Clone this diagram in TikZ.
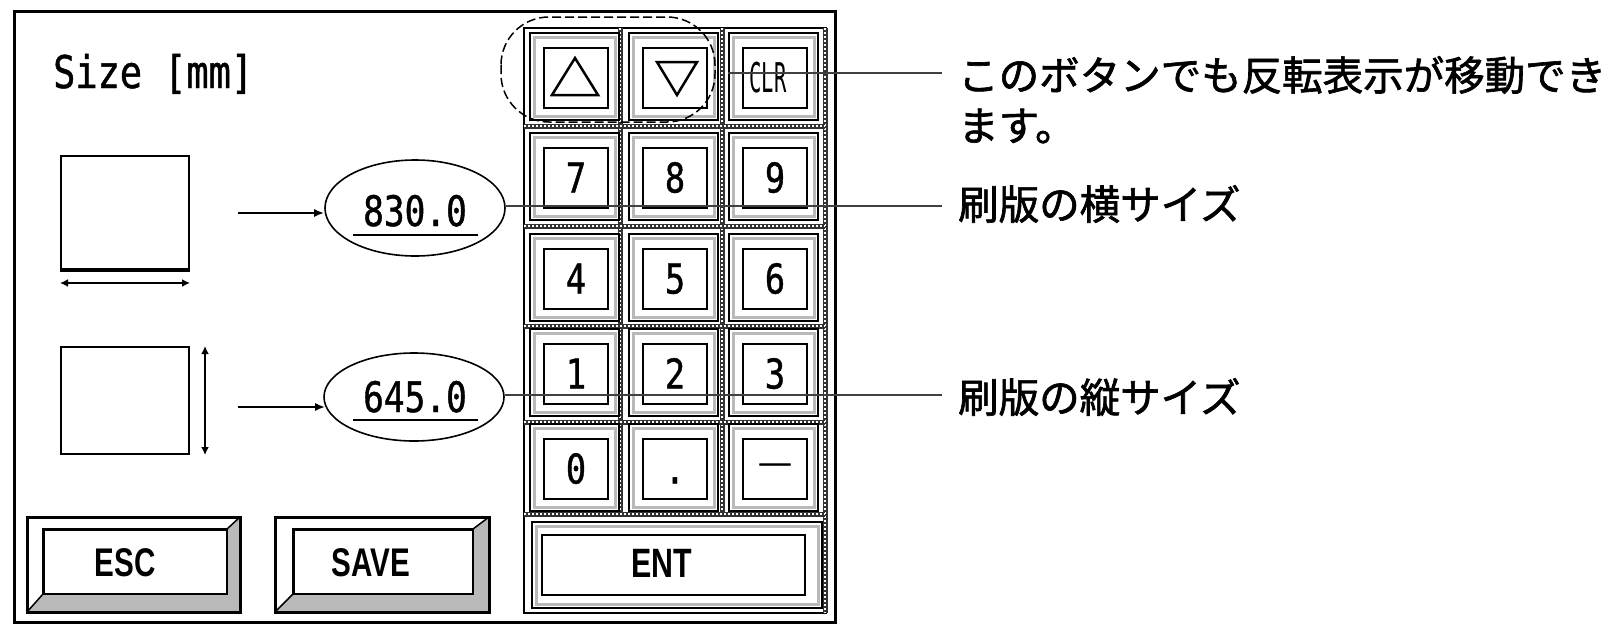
\documentclass[tikz,border=0pt]{standalone}
\usepackage{fontspec}
\newfontfamily\cjk[FakeBold=1.6]{Noto Sans CJK JP}
\newfontfamily\monof[FakeStretch=0.82,FakeBold=1]{DejaVu Sans Mono}
\newfontfamily\clrf[FakeStretch=0.5]{DejaVu Sans Mono}
\newfontfamily\btnf[FakeStretch=0.74]{Liberation Sans}
\usetikzlibrary{arrows.meta,shapes.geometric}
\newcommand\bevelbtn[8]{%
  \fill[gray!55] (#5,#8) -- (#1,#4) -- (#3,#4) -- (#3,#2) -- (#7,#6) -- (#7,#8) -- cycle;
  \draw[line width=3pt] (#1,#2) rectangle (#3,#4);
  \draw[line width=1.5pt] (#5,#8) -- (#1,#4) (#7,#6) -- (#3,#2);
  \draw[line width=1.5pt] (#5,#6) rectangle (#7,#8);
  \draw[line width=3pt] (#5,#8) -- (#5,#6) -- (#7,#6);
}
\begin{document}
\begin{tikzpicture}[x=1pt,y=-1pt,
  frame/.style={draw, line width=3pt},
  keyface/.style={draw, line width=2.5pt, fill=white, minimum width=64pt, minimum height=60pt, inner sep=0pt, font=\monof\fontsize{41}{41}\selectfont, text height=29pt, text depth=0pt},
  keyrim/.style={line width=1.5pt},
  keyband/.style={gray!55, line width=3pt},
  sepline/.style={line width=5pt, black!80},
  sepdots/.style={line width=1.6pt, white, dash pattern=on 1.6pt off 2.4pt},
  valbox/.style={ellipse, draw, line width=1.6pt, minimum width=180pt, inner sep=0pt},
  valtext/.style={font=\monof\fontsize{42}{42}\selectfont, inner sep=0pt, anchor=base},
  callout/.style={line width=2pt, black!75},
  jlabel/.style={font=\cjk\fontsize{40.5}{40.5}\selectfont, inner xsep=16pt, inner ysep=0pt, anchor=west},
  arr/.style={line width=2pt, -{Latex[length=10pt,width=8pt]}},
  dimarr/.style={line width=2.5pt, {Latex[length=8pt,width=8pt]}-{Latex[length=8pt,width=8pt]}},
  btntext/.style={font=\btnf\bfseries\fontsize{40}{40}\selectfont, inner sep=0pt},
  plate/.style={draw, line width=2pt, inner sep=0pt}
]
\useasboundingbox (0,0) rectangle (1617,624);
\fill[white] (0,0) rectangle (1617,624);

% main frame
\draw[frame] (14,11) rectangle (835,622);

% title
\node[font=\monof\fontsize{45}{45}\selectfont, inner sep=0pt, anchor=base west] (title) at (53,88) {Size [mm]};

% plate icons
\node[plate, minimum width=128pt, minimum height=113pt] (r1) at (125,212.5) {};
\draw[line width=3pt] (r1.south west) -- (r1.south east);
\draw[dimarr] ([yshift=-13pt]r1.south west) -- ([yshift=-13pt]r1.south east);
\node[plate, minimum width=128pt, minimum height=107pt] (r2) at (125,400.5) {};
\draw[dimarr] ([xshift=15pt]r2.north east) -- ([xshift=15pt]r2.south east);

% value fields
\node[valbox, minimum height=96pt] (v1) at (415,208) {};
\node[valtext] (t1) at (415,226) {830.0};
\draw[line width=2.5pt] (353,235) -- (478,235);
\node[valbox, minimum height=88pt] (v2) at (414,397) {};
\node[valtext] (t2) at (415,412) {645.0};
\draw[line width=2.5pt] (353,420) -- (478,420);

\coordinate (a1) at (238,213);
\coordinate (a2) at (238,407);
\draw[arr] (a1) -- (a1 -| v1.west);
\draw[arr] (a2) -- ([xshift=2pt]a2 -| v2.west);

% ESC / SAVE
\bevelbtn{27}{517}{240}{612}{43}{529}{227}{594}
\node[btntext] (esc) at (125,563) {ESC};
\bevelbtn{275}{517}{489}{612}{293}{529}{473}{594}
\node[btntext] (save) at (371,563) {SAVE};

% keypad body
\draw[line width=2.5pt] (524,28) rectangle (826,613);
\foreach \x in {620,722} {
  \draw[sepline] (\x,28) -- (\x,514);
  \draw[sepdots] (\x,28) -- (\x,514);
}
\draw[sepline] (825,28) -- (825,613);
\draw[sepdots] (825,28) -- (825,613);
\foreach \y in {126,226,326,422,514} {
  \draw[sepline] (524,\y) -- (825,\y);
  \draw[sepdots] (524,\y) -- (825,\y);
}

% keys
\foreach \n/\x/\y/\t in {kup/576/78/{}, kdn/675/78/{}, kclr/775/78/{},
  k7/576/178/7, k8/675/178/8, k9/775/178/9,
  k4/576/279/4, k5/675/279/5, k6/775/279/6,
  k1/576/374/1, k2/675/374/2, k3/775/374/3,
  k0/576/469/0, kdot/675/469/., kmin/775/469/{}} {
  \draw[keyrim, fill=white] (\x-46,\y-45) rectangle (\x+43,\y+42);
  \draw[keyband] (\x-42,\y-41) rectangle (\x+39,\y+38);
  \node[keyface] (\n) at (\x,\y) {\t};
}
\node[font=\clrf\fontsize{41}{41}\selectfont, inner sep=0pt] (clrt) at (768,78) {CLR};
\node[font=\cjk\fontsize{36}{36}\selectfont, inner sep=0pt] (mint) at (775,471) {―};
\draw[line width=2.5pt, line join=miter] (575,58) -- (598,95) -- (552,95) -- cycle;
\draw[line width=2.5pt, line join=miter] (657,62) -- (697,62) -- (677,95) -- cycle;

% ENT
\draw[keyrim, fill=white] (532,522) rectangle (822,608);
\draw[keyband] (536,526) rectangle (818,604);
\node[keyface, minimum width=263pt, minimum height=60pt] (ent) at (673.5,565) {};
\node[font=\btnf\bfseries\fontsize{41}{41}\selectfont, inner sep=0pt] (entt) at (662,563) {ENT};

% dashed group around arrow keys
\draw[line width=1.5pt, dash pattern=on 9pt off 4pt, rounded corners=48pt] (501,17) rectangle (715,122);

% callouts
\node[jlabel] (l1) at (942,75) {このボタンでも反転表示が移動でき};
\node[jlabel] (l1b) at (942,126) {ます。};
\node[jlabel] (l2) at (942,204) {刷版の横サイズ};
\node[jlabel] (l3) at (942,397) {刷版の縦サイズ};

\coordinate (c1) at (728,73);
\draw[callout] (c1) -- (c1 -| l1.west);
\draw[callout] ([yshift=2pt]v1.east) -- ([yshift=2pt]v1.east -| l2.west);
\draw[callout] ([yshift=2pt]v2.east) -- ([yshift=2pt]v2.east -| l3.west);
\end{tikzpicture}
\end{document}
